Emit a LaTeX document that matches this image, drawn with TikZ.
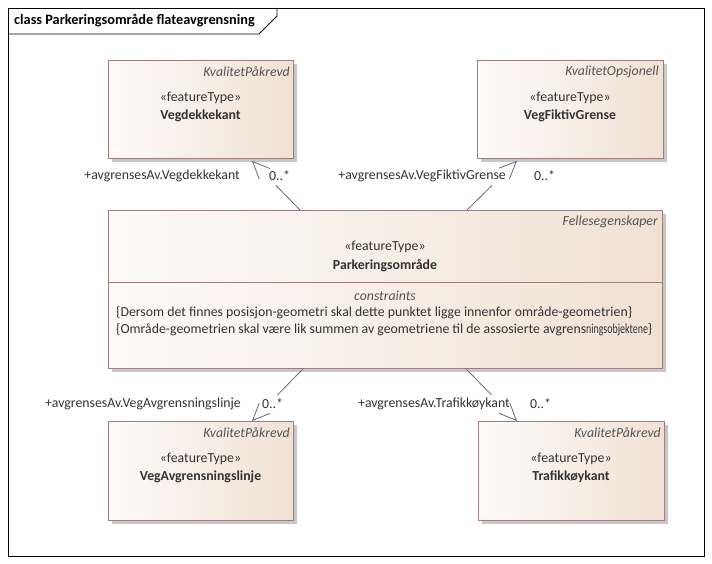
\documentclass[tikz,border=0pt]{standalone}
\usepackage{fontspec}
\setmainfont{Carlito}
\usetikzlibrary{arrows.meta,calc}
\definecolor{bordc}{HTML}{9C7E7E}
\definecolor{linec}{HTML}{5F6A86}
\definecolor{fillL}{HTML}{FDFBF9}
\definecolor{fillR}{HTML}{F0E1D3}
\definecolor{txtc}{HTML}{333333}
\definecolor{stc}{HTML}{555555}
\tikzset{
  cls/.style={draw=bordc, line width=0.9pt, left color=fillL, right color=fillR, inner sep=0pt, anchor=north west},
  shadowbox/.style={fill=black!22, draw=none},
  assocline/.style={draw=linec, line width=0.8pt},
  assochead/.style={draw=linec, line width=0.8pt, -{Straight Barb[length=17pt,width=15pt,line width=0.8pt]}},
  lbl/.style={font=\fontsize{13.8}{16}\selectfont, text=txtc, inner sep=0pt},
  ster/.style={font=\fontsize{13.8}{16}\selectfont\itshape, text=stc, inner sep=0pt},
  ft/.style={font=\fontsize{13.8}{16}\selectfont, text=txtc, inner sep=0pt},
  nm/.style={font=\fontsize{13.8}{16}\selectfont\bfseries, text=txtc, inner sep=0pt},
}
\begin{document}
\begin{tikzpicture}[x=1pt,y=-1pt]
\useasboundingbox (0,0) rectangle (712,564);
\fill[white] (0,0) rectangle (712,564);
% frame
\draw[black, line width=0.9pt] (8,8) rectangle (704,556);
\draw[black, line width=0.9pt] (8,34) -- (259,34) -- (277,16) -- (277,8);
\node[anchor=west, font=\fontsize{14.3}{16}\selectfont\bfseries, inner sep=0pt] (title) at (14,21) {class Parkeringsområde flateavgrensning};

% shadows
\fill[shadowbox] (112,64) rectangle (297,162);
\fill[shadowbox] (481,64) rectangle (667,162);
\fill[shadowbox] (112,214) rectangle (666,372);
\fill[shadowbox] (112,425) rectangle (297,524);
\fill[shadowbox] (482,425) rectangle (668,524);

% boxes
\node[cls, minimum width=185pt, minimum height=98pt] (vd) at (108,60) {};
\node[cls, minimum width=186pt, minimum height=98pt] (vf) at (477,60) {};
\node[cls, minimum width=554pt, minimum height=158pt] (p) at (108,210) {};
\node[cls, minimum width=185pt, minimum height=99pt] (va) at (108,421) {};
\node[cls, minimum width=186pt, minimum height=99pt] (tk) at (478,421) {};

% Vegdekkekant
\node[ster, anchor=east] (vds) at (290,72) {KvalitetPåkrevd};
\node[ft] (vdf) at (200.5,98) {«featureType»};
\node[nm] (vdn) at (200.5,116) {Vegdekkekant};
% VegFiktivGrense
\node[ster, anchor=east] (vfs) at (659,72) {KvalitetOpsjonell};
\node[ft] (vff) at (570,98) {«featureType»};
\node[nm] (vfn) at (570,116) {VegFiktivGrense};
% Parkeringsområde
\node[ster, anchor=east] (ps) at (658,222) {Fellesegenskaper};
\node[ft] (pf) at (385,247) {«featureType»};
\node[nm] (pn) at (385,266) {Parkeringsområde};
\draw[bordc, line width=0.9pt] (p.west |- 0,282) -- (p.east |- 0,282);
\node[ster] (pc) at (385,296) {constraints};
\node[lbl, anchor=west] (pc1) at (116,313) {\{Dersom det finnes posisjon-geometri skal dette punktet ligge innenfor område-geometrien\}};
\node[lbl, anchor=west] (pc2) at (116,330) {\{Område-geometrien skal være lik summen av geometriene til de assosierte avgrens\scalebox{0.72}[1]{ningsobjektene}\}};
% VegAvgrensningslinje
\node[ster, anchor=east] (vas) at (290,433) {KvalitetPåkrevd};
\node[ft] (vaf) at (200.5,459) {«featureType»};
\node[nm] (van) at (200.5,477) {VegAvgrensningslinje};
% Trafikkøykant
\node[ster, anchor=east] (tks) at (661,433) {KvalitetPåkrevd};
\node[ft] (tkf) at (571,459) {«featureType»};
\node[nm] (tkn) at (571,477) {Trafikkøykant};

% connector end points
\coordinate (s1) at ([xshift=192pt]p.north west);
\coordinate (t1) at ([xshift=144pt,yshift=-2pt]vd.south west);
\coordinate (s2) at ([xshift=359pt]p.north west);
\coordinate (t2) at ([xshift=40pt,yshift=-2pt]vf.south west);
\coordinate (s3) at ([xshift=195pt]p.south west);
\coordinate (t3) at ([xshift=144pt]va.north west);
\coordinate (s4) at ([xshift=358pt]p.south west);
\coordinate (t4) at ([xshift=39pt]tk.north west);
% connectors (shaft visible on the source half, then the open head)
\foreach \i in {1,2,3,4}{
  \draw[assocline] (s\i) -- ($(s\i)!0.5!(t\i)$);
  \draw[assochead] ($(t\i)!2pt!(s\i)$) -- (t\i);
}

% role labels
\node[lbl, anchor=east] (l1) at (240,176) {+avgrensesAv.Vegdekkekant};
\node[lbl, anchor=west] (m1) at (269,176) {0..*};
\node[lbl, anchor=east] (l2) at (506,176) {+avgrensesAv.VegFiktivGrense};
\node[lbl, anchor=west] (m2) at (534,176) {0..*};
\node[lbl, anchor=east] (l3) at (241,404) {+avgrensesAv.VegAvgrensningslinje};
\node[lbl, anchor=west] (m3) at (262,404) {0..*};
\node[lbl, anchor=east] (l4) at (510,404) {+avgrensesAv.Trafikkøykant};
\node[lbl, anchor=west] (m4) at (530,404) {0..*};
\end{tikzpicture}
\end{document}
